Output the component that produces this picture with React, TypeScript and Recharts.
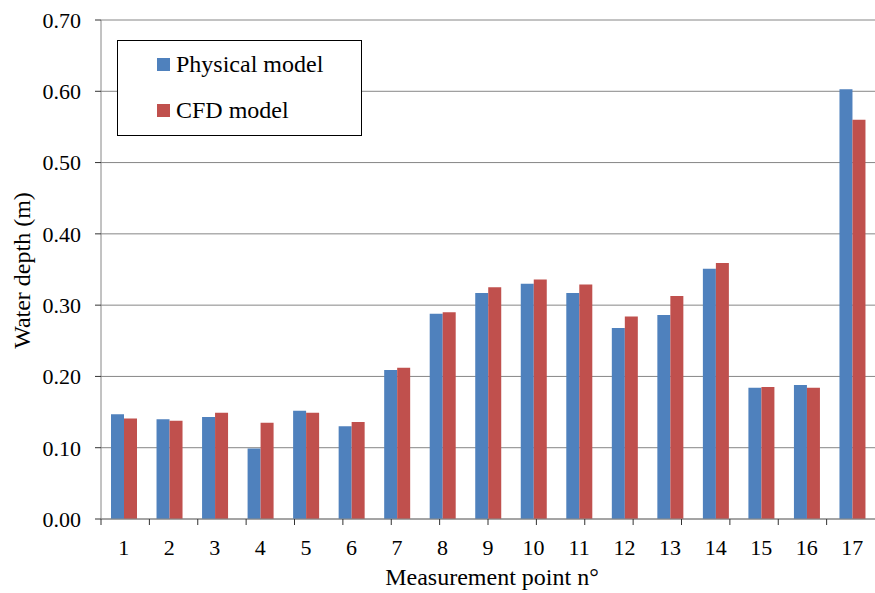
import React from "react";
import {
  BarChart, Bar, XAxis, YAxis, CartesianGrid,
} from "recharts";

const points = ["1", "2", "3", "4", "5", "6", "7", "8", "9", "10", "11", "12", "13", "14", "15", "16", "17"];
const physical = [0.147, 0.140, 0.143, 0.099, 0.152, 0.130, 0.209, 0.288, 0.317, 0.330, 0.317, 0.268, 0.286, 0.351, 0.184, 0.188, 0.603];
const cfd      = [0.141, 0.138, 0.149, 0.135, 0.149, 0.136, 0.212, 0.290, 0.325, 0.336, 0.329, 0.284, 0.313, 0.359, 0.185, 0.184, 0.560];
const yTicks = [0, 0.1, 0.2, 0.3, 0.4, 0.5, 0.6, 0.7];

const BLUE = "#4F81BD";
const RED = "#C0504D";
const AXIS = "#868686";
const FONT = "Liberation Serif, Tinos, Times New Roman, DejaVu Serif, serif";
const FS = 22;   // tick labels
const FT = 24;   // axis titles and legend

const data = points.map((p, i) => ({ point: p, physical: physical[i], cfd: cfd[i] }));
// boundary ticks between categories (Excel style)
const edgeTicks = [...points.map((_, i) => i), points.length];

function LegendBox() {
  const item = (color: string, text: string) => (
    <div style={{ display: "flex", alignItems: "center", height: 46 }}>
      <span style={{ width: 13, height: 13, background: color, marginRight: 6, display: "inline-block" }} />
      <span>{text}</span>
    </div>
  );
  return (
    <div style={{
      position: "absolute", left: 117, top: 40,
      border: "1px solid #000", background: "#fff", width: 245, height: 96,
      boxSizing: "border-box", padding: "0 0 0 39px", fontFamily: FONT, fontSize: FT, color: "#000",
    }}>
      {item(BLUE, "Physical model")}
      {item(RED, "CFD model")}
    </div>
  );
}

export default function App() {
  return (
    <div style={{ position: "absolute", left: 0, top: 0, width: 875, height: 593, background: "#fff", fontFamily: FONT }}>
      <BarChart width={875} height={593} data={data} barGap={0} barSize={13}
        margin={{ top: 20, right: 0, bottom: 0, left: 0 }}>
        <CartesianGrid vertical={false} xAxisId="b" stroke={AXIS} strokeWidth={1} />
        <XAxis xAxisId="a" type="number" domain={[0, points.length]} ticks={edgeTicks}
          allowDataOverflow height={6} tickSize={6} tickFormatter={() => ""}
          stroke={AXIS} tickLine={{ stroke: "#333" }} />
        <XAxis xAxisId="b" dataKey="point" height={68} axisLine={false} tickLine={false} tickSize={0} tickMargin={14}
          tick={{ fill: "#000", fontSize: FS, fontFamily: FONT }} interval={0}
          label={(props: any) => {
            const vb = props.viewBox;
            return (
              <text x={vb.x + vb.width / 2 + 4} y={vb.y + 60} textAnchor="middle"
                fill="#000" fontSize={FT} fontFamily={FONT}>Measurement point n°</text>
            );
          }} />
        <YAxis domain={[0, 0.7]} ticks={yTicks} width={101} tickSize={6} tickMargin={14}
          stroke={AXIS} tickLine={{ stroke: "#333" }} interval={0}
          tickFormatter={(v: number) => v.toFixed(2)}
          tick={{ fill: "#000", fontSize: FS, fontFamily: FONT }}
          label={(props: any) => {
            const vb = props.viewBox;
            const cx = vb.x + 22;
            const cy = vb.y + vb.height / 2 + 1;
            return (
              <text x={cx} y={cy} textAnchor="middle" dominantBaseline="central"
                transform={`rotate(-90 ${cx} ${cy})`} fill="#000" fontSize={FT} fontFamily={FONT}>
                Water depth (m)
              </text>
            );
          }} />
        <Bar xAxisId="b" dataKey="physical" name="Physical model" fill={BLUE} isAnimationActive={false} />
        <Bar xAxisId="b" dataKey="cfd" name="CFD model" fill={RED} isAnimationActive={false} />
      </BarChart>
      <LegendBox />
    </div>
  );
}
